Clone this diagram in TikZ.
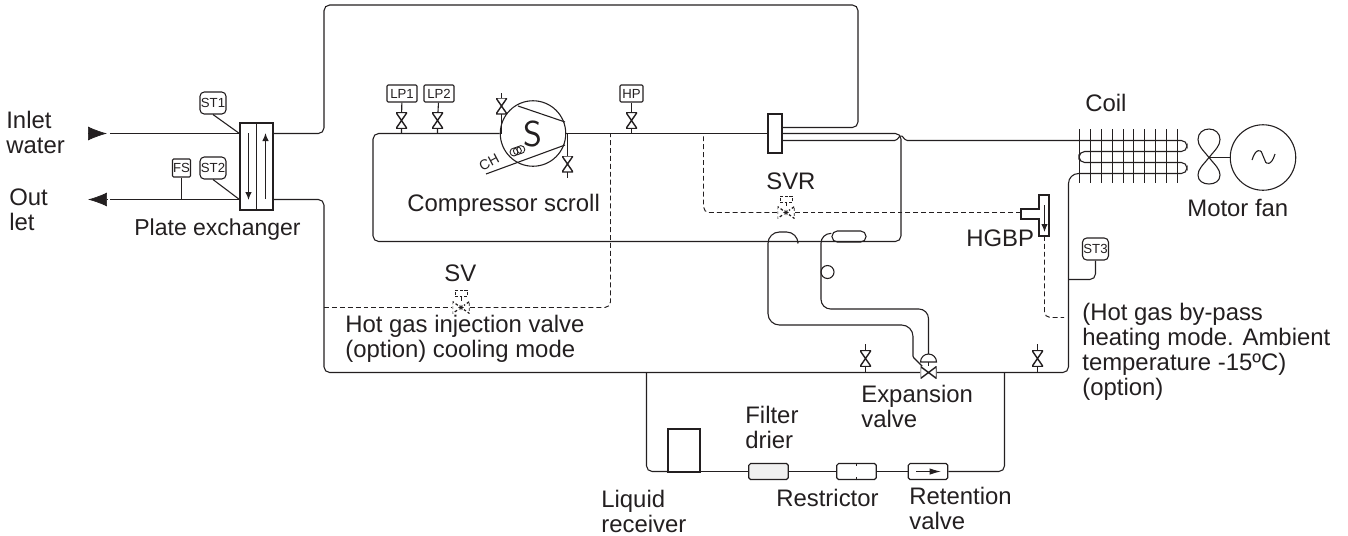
\documentclass[tikz,border=0pt]{standalone}
\usepackage{fontspec}
\setmainfont{Liberation Sans}
\usetikzlibrary{arrows.meta}
\definecolor{pipeInk}{HTML}{231F20}
\tikzset{%
  >={Latex[width=1.3mm,length=1.6mm]},
  % Specifications for style of pipes:
           pipe/.style = {draw=pipeInk, line width=0.62pt, rounded corners=3.2pt},
      pilotLine/.style = {pipe, line width=0.55pt, dash pattern=on 2.8pt off 1.7pt},
       flowHead/.style = {draw=pipeInk, fill=pipeInk,
                          -{Latex[width=2.8mm,length=3.8mm]}},
  % Specifications for style of nodes:
        caption/.style = {inner sep=0pt, align=left, anchor=west, text=pipeInk,
                          font=\fontsize{13.6}{14.2}\selectfont},
       boxShape/.style = {rectangle, draw=pipeInk, line width=0.62pt, inner sep=0pt},
       gaugeBox/.style = {boxShape, rounded corners=0.6pt, text=pipeInk,
                          minimum height=0.34cm, font=\fontsize{7.5}{8}\selectfont},
      sensorBox/.style = {gaugeBox, rounded corners=2.4pt, minimum width=0.52cm,
                          minimum height=0.44cm},
       valveTie/.style = {rectangle, inner sep=0pt, minimum width=0.22cm,
                          minimum height=0.32cm,
                          path picture={\draw[draw=pipeInk, line width=0.8pt]
                            (path picture bounding box.north west) --
                            (path picture bounding box.north east) --
                            (path picture bounding box.south west) --
                            (path picture bounding box.south east) -- cycle;}},
       valveBow/.style = {rectangle, inner sep=0pt, minimum width=0.32cm,
                          minimum height=0.24cm,
                          path picture={\draw[draw=pipeInk, line width=0.8pt]
                            (path picture bounding box.north west) --
                            (path picture bounding box.south west) --
                            (path picture bounding box.north east) --
                            (path picture bounding box.south east) -- cycle;}},
       solenoid/.style = {valveBow, minimum width=0.34cm, minimum height=0.24cm,
                          path picture={\draw[draw=pipeInk, line width=0.7pt,
                              dash pattern=on 1.6pt off 1.2pt]
                            (path picture bounding box.north west) --
                            (path picture bounding box.south west) --
                            (path picture bounding box.north east) --
                            (path picture bounding box.south east) -- cycle;
                            \draw[draw=white, fill=white]
                            (path picture bounding box.center) circle (1.9pt);
                            \draw[draw=pipeInk, line width=0.35pt]
                            (path picture bounding box.center) ++(-1.5pt,0) -- ++(3pt,0)
                            ++(-1.5pt,-1.5pt) -- ++(0,3pt)
                            ++(-1.1pt,-2.6pt) -- ++(2.2pt,2.2pt)
                            ++(0,-2.2pt) -- ++(-2.2pt,2.2pt);}},
    solenoidCap/.style = {rectangle, draw=pipeInk, line width=0.5pt, inner sep=0pt,
                          dash pattern=on 1.6pt off 1pt,
                          minimum width=0.24cm, minimum height=0.13cm},
}

\begin{document}
\begin{tikzpicture}[x=0.02cm, y=-0.02cm, node distance=0.74cm]
  \useasboundingbox (0,0) rectangle (1348,535);
  % Water side and plate exchanger
  \coordinate (inletHeadTail)  at (88,133.5);
  \coordinate (inletHeadTip)   at (107,133.5);
  \coordinate (inletEnd)       at (110,133.5);
  \coordinate (outletHeadTail) at (107,199.5);
  \coordinate (outletHeadTip)  at (88,199.5);
  \coordinate (outletEnd)      at (110,199.5);
  \node (plateBlock) [boxShape, minimum width=0.66cm, minimum height=1.74cm]
                                                       at (256.5,166.5) {};
  \node (st1Box)     [sensorBox]                       at (213,103)     {ST1};
  \node (st2Box)     [sensorBox]                       at (213,168)     {ST2};
  \node (fsBox)      [gaugeBox, minimum width=0.36cm, minimum height=0.36cm]
                                                       at (181.5,168)   {FS};
  \draw[flowHead] (inletHeadTail) -- (inletHeadTip);
  \draw[flowHead] (outletHeadTail) -- (outletHeadTip);
  \draw[pipe]     (inletEnd) -- (plateBlock.west |- inletEnd);
  \draw[pipe]     (outletEnd) -- (plateBlock.west |- outletEnd);
  \draw[pipe]     (plateBlock.north) -- (plateBlock.south);
  \draw[pipe,->]  (248.5,133) -- (248.5,200);
  \draw[pipe,->]  (265.5,199) -- (265.5,133);
  \draw[pipe]     (st1Box.south) -- (plateBlock.west |- inletEnd);
  \draw[pipe]     (st2Box.south) -- (plateBlock.west |- outletEnd);
  \draw[pipe]     (fsBox.south) -- (fsBox.south |- outletEnd);

  % Compressor with its gauges and service valves
  \node (scrollDisc)  [circle, draw=pipeInk, line width=0.62pt, inner sep=0pt,
                       minimum size=1.31cm]            at (533,133.5)   {};
  \node (scrollMark)  [inner sep=0pt, text=pipeInk,
                       font=\sffamily\fontsize{20.5}{20.5}\selectfont]
                                                       at (533,133.5)   {S};
  \node (hotBlock)    [boxShape, minimum width=0.28cm, minimum height=0.78cm]
                                                       at (775,133.5)   {};
  \node (lp1Box)      [gaugeBox, minimum width=0.6cm]  at (402,93.5)    {LP1};
  \node (lp2Box)      [gaugeBox, minimum width=0.6cm, right of=lp1Box]  {LP2};
  \node (hpBox)       [gaugeBox, minimum width=0.46cm] at (631.5,93.5)  {HP};
  \node (lp1Valve)    [valveTie]                       at (401.5,120.5) {};
  \node (lp2Valve)    [valveTie]                       at (437.5,120.5) {};
  \node (hpValve)     [valveTie]                       at (631.5,120.5) {};
  \node (suctValve)   [valveTie]                       at (501.5,106)   {};
  \node (dischValve)  [valveTie]                       at (567.5,164)   {};
  \coordinate (suctStub)  at (501.5,93);
  \coordinate (dischStub) at (567.5,178);
  \draw[pipe] (lp1Box) -- (lp1Valve) -- (lp1Valve |- scrollDisc);
  \draw[pipe] (lp2Box) -- (lp2Valve) -- (lp2Valve |- scrollDisc);
  \draw[pipe] (hpBox) -- (hpValve) -- (hpValve |- scrollDisc);
  \draw[pipe] (suctStub) -- (suctValve) -- (suctValve |- scrollDisc);
  \draw[pipe] (dischValve |- scrollDisc) -- (dischValve) -- (dischStub);
  \draw[pipe] (518,106) -- (565,122);
  \draw[pipe] (565,145) -- (486,174);
  \foreach \turn in {0,1,2}
    \draw[pipeInk, line width=0.5pt] ({514+3.4*\turn},{152-1.2*\turn}) circle (0.08cm);
  \node (chLabel) [text=pipeInk, inner sep=0pt, rotate=28,
                   font=\fontsize{8}{9}\selectfont]    at (489,162)     {CH};

  % Refrigerant loop round the compressor
  \draw[pipe] (scrollDisc) -- (hotBlock);
  \draw[pipe] (scrollDisc.west) -- (373,133.5) -- (373,241.5) -- (901,241.5) -- (901,133.5)
              -- (hotBlock.east |- 0,133.5);
  \draw[pipe] (plateBlock.east |- inletEnd) -- (324,133.5) -- (324,5) -- (858,5)
              -- (858,127.5) -- (hotBlock.east |- 0,127.5);

  % Coil and motor fan
  \coordinate (coilOut) at (1079,173.5);
  \coordinate (fanHub)  at (1209,157.5);
  \node (motorDisc) [circle, draw=pipeInk, line width=0.62pt, minimum size=1.31cm,
                     inner sep=0pt]                    at (1263,157.5)  {};
  \draw[pipe] (hotBlock.east |- 0,140.5) [rounded corners=0.8pt] -- (896,140.5)
              -- (901,135) -- (906,140.5) [rounded corners=3.2pt] -- (1187,140.5)
              -- (1187,151.5) -- (1079,151.5) -- (1079,162.5) -- (1187,162.5)
              -- (1187,173.5) -- (coilOut);
  \foreach \fin in {0,...,9}
    \draw[pipe] ({round(1079+10.9*\fin)+0.5},129) -- ++(0,54);
  \draw[pipe, sharp corners] (fanHub) .. controls (1203,150) and (1198,146) .. (1198,139.5)
              .. controls (1198,133) and (1203,129) .. (1209,129)
              .. controls (1215,129) and (1220,133) .. (1220,139.5)
              .. controls (1220,146) and (1215,150) .. (fanHub)
              .. controls (1203,165) and (1198,169) .. (1198,175)
              .. controls (1198,181) and (1203,184) .. (1209,184)
              .. controls (1215,184) and (1220,181) .. (1220,175)
              .. controls (1220,169) and (1215,165) .. (fanHub);
  \draw[pipe] (fanHub) -- (motorDisc);
  \draw[pipe] (1252,160) .. controls (1256,147) and (1261,151) .. (1263.5,157)
              .. controls (1266,163) and (1271,167) .. (1275,154);

  % Main liquid line and expansion valve
  \node (expValve)  [valveBow]                         at (928.5,372.5) {};
  \node (st3Box)    [sensorBox]                        at (1095.5,249)  {ST3};
  \node (leftValve)  [valveTie]                        at (865.5,358.5) {};
  \node (rightValve) [valveTie]                        at (1037.5,358.5) {};
  \coordinate (expCap) at (928.5,362);
  \draw[pipe] (coilOut) [rounded corners=5.7pt] -- (1068.5,173.5)
              [rounded corners=3.2pt] -- (1068.5,372.5) -- (expValve.east);
  \draw[pipe] (expValve.west) -- (324,372.5) -- (324,199.5)
              -- (plateBlock.east |- outletEnd);
  \draw[pipe] (865.5,344) -- (leftValve) -- (leftValve |- expValve);
  \draw[pipe] (1037.5,344) -- (rightValve) -- (rightValve |- expValve);
  \draw[pipe] (st3Box.south) |- (1068.5,279.5);
  \draw[pipe, rounded corners=0pt] (expCap) ++(-0.16cm,0)
              arc[start angle=180, end angle=0, radius=0.16cm] -- cycle;
  \draw[pipe] (expCap) -- (expValve);

  % Capillary tubes from the bulbs
  \node (oilPill)   [boxShape, rounded corners=3pt, minimum width=0.68cm,
                     minimum height=0.22cm]            at (849,236.5)   {};
  \node (sightDisc) [circle, draw=pipeInk, line width=0.62pt, inner sep=0pt,
                     minimum size=0.26cm]              at (827.5,272)   {};
  \draw[pipe, rounded corners=6.5pt] (798,241.5) -- (798,232) -- (768,232) -- (768,325)
              -- (913,325) [rounded corners=0.5pt] -- (913,357) -- (expValve);
  \draw[pipe, rounded corners=5.5pt] (oilPill.170) -- (821,233.5) -- (821,309)
              -- (928.5,309) -- (928.5,354);

  % Pilot lines
  \node (svValve)  [solenoid]                          at (461,307.5)   {};
  \node (svCap)    [solenoidCap]                       at (461,293.5)   {};
  \node (svrValve) [solenoid]                          at (786,212.5)   {};
  \node (svrCap)   [solenoidCap]                       at (786,199.5)   {};
  \coordinate (hgbpIn)  at (1021,212.5);
  \coordinate (hgbpOut) at (1044.5,236);
  \draw[pipe, rounded corners=0pt] (1021,209) -- (1039,209) -- (1039,195) -- (1049,195)
              -- (1049,236) -- (1039,236) -- (1039,219) -- (1021,219) -- cycle;
  \draw[pipe,->] (1044.5,205) -- (1044.5,232);
  \draw[pilotLine] (324,307.5) -- (svValve);
  \draw[pilotLine] (svValve) -- (610.5,307.5) -- (610.5,133.5);
  \draw[pilotLine] (hgbpIn) -- (svrValve);
  \draw[pilotLine] (svrValve) -- (703.5,212.5) -- (703.5,133.5);
  \draw[pilotLine] (hgbpOut) -- (1044.5,317.5) -- (1064,317.5);
  \draw[pilotLine] (svCap) -- (svValve);
  \draw[pilotLine] (svrCap) -- (svrValve);

  % Liquid receiver branch
  \node (receiverBox)   [boxShape, minimum width=0.64cm, minimum height=0.86cm]
                                                       at (684,450.5)   {};
  \node (filterBox)     [boxShape, rounded corners=1pt, fill=black!6,
                         minimum width=0.79cm, minimum height=0.32cm]
                                                       at (768.5,471.5) {};
  \node (restrictorBox) [boxShape, rounded corners=1pt, minimum width=0.79cm,
                         minimum height=0.32cm]        at (856.5,471.5) {};
  \node (retentionBox)  [boxShape, rounded corners=1pt, minimum width=0.79cm,
                         minimum height=0.32cm]        at (928,471.5)   {};
  \draw[pipe] (646.5,372.5) -- (646.5,471.5) -- (receiverBox.west |- filterBox);
  \draw[pipe] (receiverBox.east |- filterBox) -- (filterBox);
  \draw[pipe] (filterBox) -- (restrictorBox);
  \draw[pipe] (restrictorBox) -- (retentionBox);
  \draw[pipe] (retentionBox) -- (1004.5,471.5) -- (1004.5,372.5);
  \draw[pipe] (restrictorBox.north) -- ++(0,3);
  \draw[pipe] (restrictorBox.south) -- ++(0,-3);
  \draw[pipe, -{Latex[width=1.3mm,length=2.3mm]}] (916,471.5) -- (941,471.5);

  % Labels
  \node (inletLabel)    [caption] at (6,132.5)    {Inlet\\water};
  \node (outletLabel)   [caption] at (9,209.5)    {Out\\let};
  \node (plateLabel)    [caption, font=\fontsize{13.1}{14.2}\selectfont]
                                  at (134,229.5)  {Plate exchanger};
  \node (scrollLabel)   [caption] at (407,205)    {Compressor scroll};
  \node (svLabel)       [caption] at (444,273)    {SV};
  \node (injectLabel)   [caption] at (345,339)    {Hot gas injection valve\\(option) cooling mode};
  \node (svrLabel)      [caption] at (766,181)    {SVR};
  \node (hgbpLabel)     [caption] at (966,238)    {HGBP};
  \node (coilLabel)     [caption] at (1085,103)   {Coil};
  \node (motorLabel)    [caption] at (1187,208)   {Motor fan};
  \node (bypassLabel)   [caption] at (1082,352)   {(Hot gas by-pass\\heating mode. Ambient\\temperature -15ºC)\\(option)};
  \node (expLabel)      [caption] at (861,406)    {Expansion\\valve};
  \node (filterLabel)   [caption] at (745,427.5)  {Filter\\drier};
  \node (receiverLabel) [caption] at (601,511.5)  {Liquid\\receiver};
  \node (restrictLabel) [caption] at (776,497.5)  {Restrictor};
  \node (retainLabel)   [caption] at (909,508.5)  {Retention\\valve};
\end{tikzpicture}
\end{document}
